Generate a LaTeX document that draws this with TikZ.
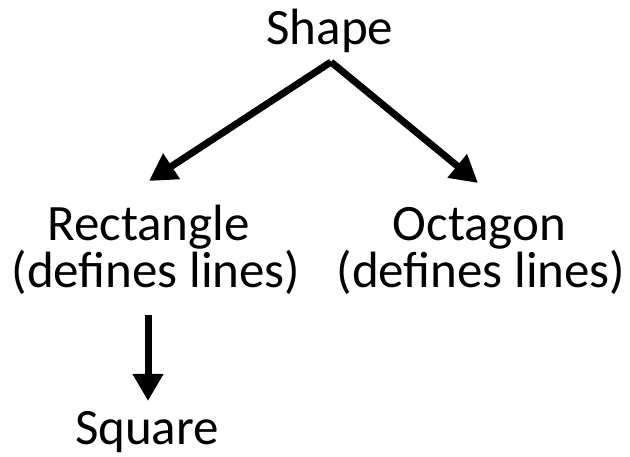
\documentclass[tikz,border=0pt]{standalone}
\usepackage{fontspec}
\setmainfont{Carlito}
\usetikzlibrary{arrows.meta}
\begin{document}
\begin{tikzpicture}[x=1pt,y=-1pt,
  lbl/.style={inner sep=0pt,anchor=base,align=center,font=\fontsize{51}{45}\selectfont},
  conn/.style={line width=7pt,-{Triangle[length=27pt,width=29pt]}}]
\useasboundingbox (0,0) rectangle (630,457);
\node[lbl] (shape) at (330,45) {Shape};
\node[lbl] (rect) at (156,288) {Rectangle\kern15pt\\(defines lines)};
\node[lbl] (oct) at (481,288) {Octagon\kern3pt\\(defines lines)};
\node[lbl] (square) at (147,445) {Square};
\coordinate (apex) at (331,62);
\coordinate (ltip) at (149,181);
\coordinate (rtip) at (478,183);
\coordinate (vtop) at (148,315);
\coordinate (vtip) at (148,401);
\draw[conn] (apex) -- (ltip);
\draw[conn] (apex) -- (rtip);
\draw[conn] (vtop) -- (vtip);
\end{tikzpicture}
\end{document}
